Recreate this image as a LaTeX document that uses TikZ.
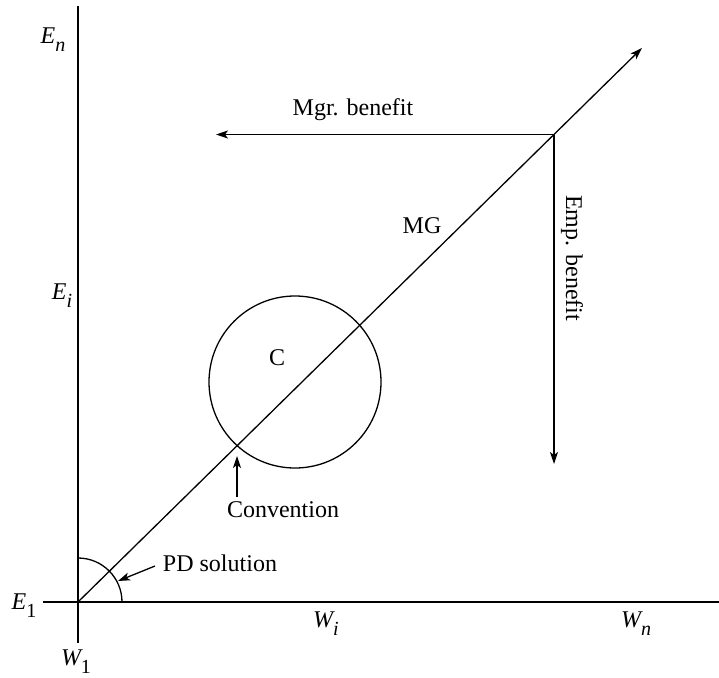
\documentclass[tikz,border=0pt]{standalone}
\usepackage{fontspec}
\setmainfont{Liberation Serif}
\usetikzlibrary{arrows.meta}
\newcommand{\sbl}[2]{{\itshape #1}\raisebox{-8pt}{\fontsize{20}{20}\selectfont #2}}
\begin{document}
\begin{tikzpicture}[x=1pt,y=-1pt, line width=1.3pt,
  lbl/.style={font=\fontsize{24}{28}\selectfont, inner sep=0pt},
  arr/.style={-{Stealth[length=12pt,width=8pt,inset=3pt]}}]
\useasboundingbox (0,0) rectangle (719,677);
% axes
\coordinate (O) at (78,602);
\coordinate (vtop) at (78,6);
\coordinate (vbot) at (78,643);
\coordinate (hleft) at (43,602);
\coordinate (hright) at (719,602);
\coordinate (tip) at (642,48);
\coordinate (K) at (554,134.5);
\coordinate (mgrEnd) at (216,134.5);
\coordinate (empEnd) at (554,464);
\coordinate (arcStart) at (122,602);
\draw (vtop) -- (vbot);
\draw (hleft) -- (hright);
\draw[arr] (O) -- (tip);
\draw[arr] (K) -- (mgrEnd);
\draw[arr] (K) -- (empEnd);
\draw (arcStart) arc[start angle=0, end angle=90, radius=44pt];
% circle
\node[draw, circle, minimum size=172pt, inner sep=0pt] (C) at (295,382) {};
\node[lbl] (Clbl) at (277,358) {C};
% labels
\node[lbl] (mgr) at (353,110) {Mgr. benefit};
\node[lbl, rotate=-90] (emp) at (572,258) {Emp. benefit};
\node[lbl] (MG) at (422,226) {MG};
\node[lbl] (conv) at (283,510) {Convention};
\coordinate (convTip) at (237,456);
\coordinate (convTail) at (237,497);
\draw[arr] (convTail) -- (convTip);
\node[lbl] (pd) at (220,563) {PD solution};
\coordinate (pdTail) at (155,566);
\coordinate (pdTip) at (118,581);
\draw[arr] (pdTail) -- (pdTip);
% axis labels
\node[lbl] (En) at (53,40) {\sbl{E}{\itshape n}};
\node[lbl] (Ei) at (62,296) {\sbl{E}{\itshape i}};
\node[lbl] (E1) at (24,606) {\sbl{E}{1}};
\node[lbl] (W1) at (76,662) {\sbl{W}{1}};
\node[lbl] (Wi) at (326,624) {\sbl{W}{\itshape i}};
\node[lbl] (Wn) at (636,624) {\sbl{W}{\itshape n}};
\end{tikzpicture}
\end{document}
